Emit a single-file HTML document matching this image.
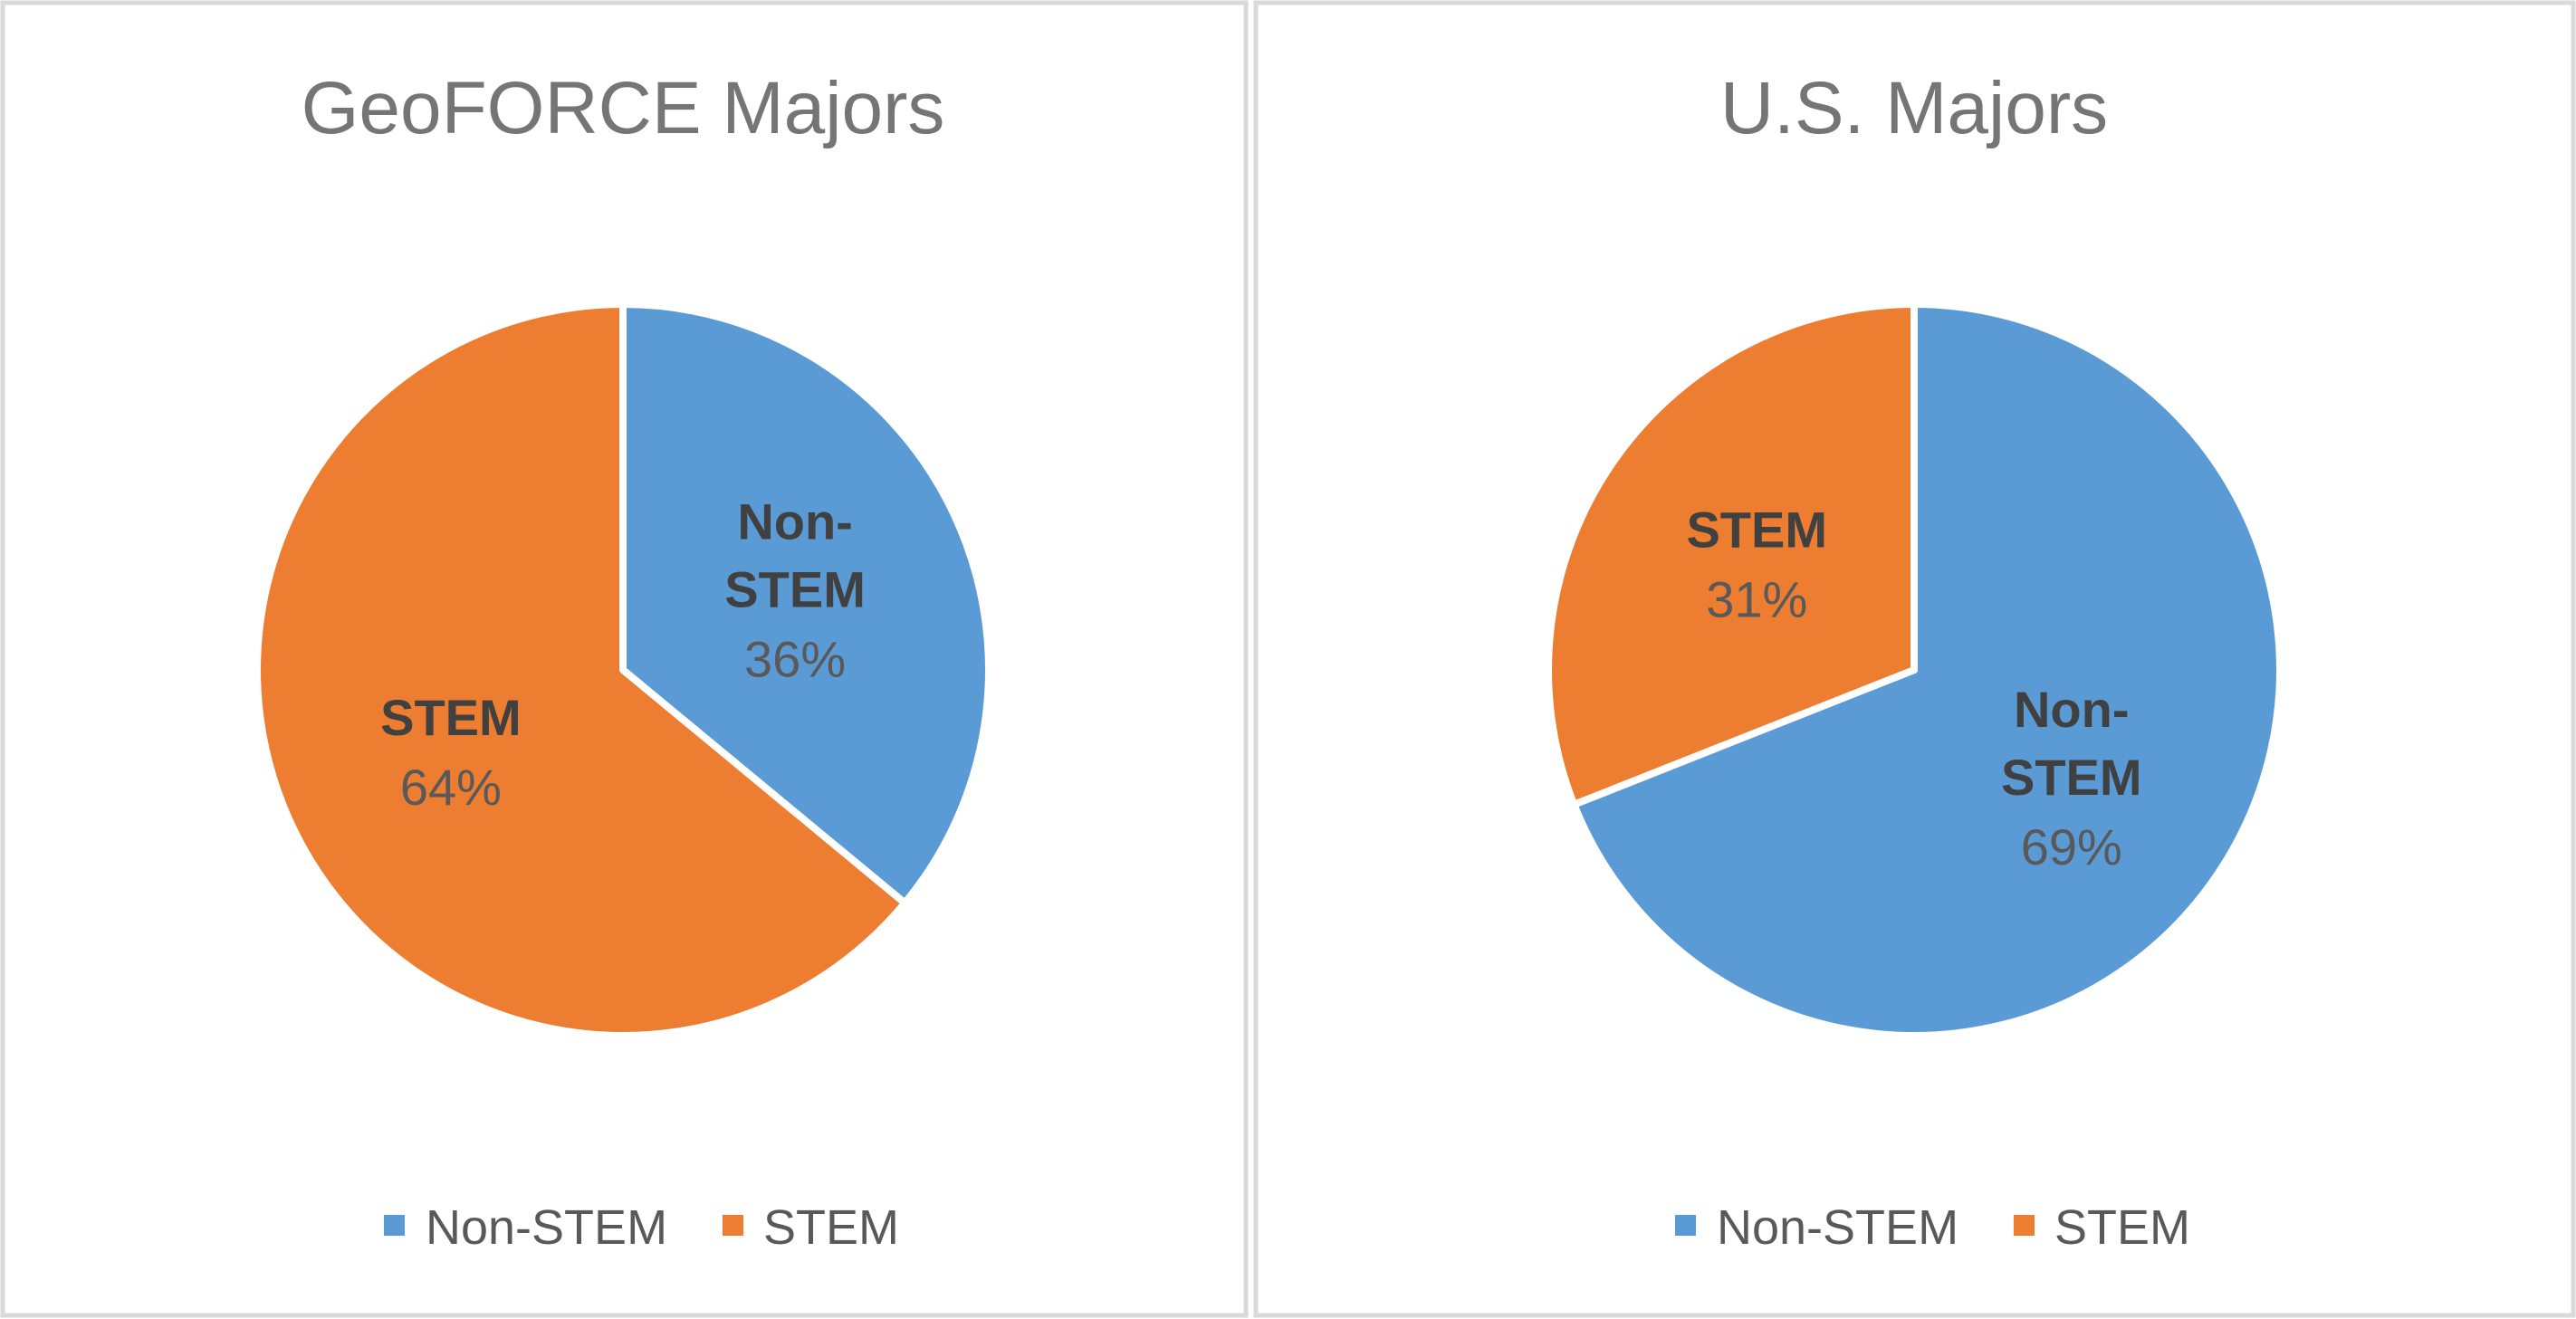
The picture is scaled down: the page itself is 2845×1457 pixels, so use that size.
<!DOCTYPE html>
<html><head><meta charset="utf-8"><style>
html,body{margin:0;padding:0;background:#fff;}
svg{display:block;font-family:"Liberation Sans",sans-serif;}
</style></head><body>
<svg id="chart" width="2845" height="1457" viewBox="0 0 2845 1457">
<rect x="3" y="3" width="1373" height="1450" fill="#fff" stroke="#d9d9d9" stroke-width="5"/>
<rect x="1387" y="3" width="1455" height="1450" fill="#fff" stroke="#d9d9d9" stroke-width="5"/>
<text x="688" y="147" text-anchor="middle" font-size="82" fill="#757575">GeoFORCE Majors</text>
<text x="2114" y="147" text-anchor="middle" font-size="82" fill="#757575">U.S. Majors</text>
<g id="pies"></g>
<g>
<rect x="424" y="1342" width="23" height="23" fill="#5b9bd5"/>
<text x="470" y="1374" font-size="54" fill="#595959">Non-STEM</text>
<rect x="798" y="1342" width="23" height="23" fill="#ed7d31"/>
<text x="843" y="1374" font-size="54" fill="#595959">STEM</text>
</g>
<g>
<rect x="1850" y="1342" width="23" height="23" fill="#5b9bd5"/>
<text x="1896" y="1374" font-size="54" fill="#595959">Non-STEM</text>
<rect x="2224" y="1342" width="23" height="23" fill="#ed7d31"/>
<text x="2269" y="1374" font-size="54" fill="#595959">STEM</text>
</g>
</svg>
<script>
const categories = ["Non-STEM", "STEM"];
const geoforceValues = [36, 64];
const usValues = [69, 31];
const colors = ["#5b9bd5", "#ed7d31"];
const NS = "http://www.w3.org/2000/svg";
const g = document.getElementById("pies");
function pt(cx, cy, r, frac) {
  const a = frac * 2 * Math.PI;
  return [cx + r * Math.sin(a), cy - r * Math.cos(a)];
}
function drawPie(cx, cy, r, values, name) {
  const total = values.reduce((a, b) => a + b, 0);
  let acc = 0;
  values.forEach((v, i) => {
    const f0 = acc / total, f1 = (acc + v) / total;
    acc += v;
    const p0 = pt(cx, cy, r, f0), p1 = pt(cx, cy, r, f1);
    const large = (f1 - f0) > 0.5 ? 1 : 0;
    const path = document.createElementNS(NS, "path");
    path.setAttribute("d", `M${cx},${cy} L${p0[0]},${p0[1]} A${r},${r} 0 ${large} 1 ${p1[0]},${p1[1]} Z`);
    path.setAttribute("fill", colors[i]);
    path.setAttribute("stroke", "#fff");
    path.setAttribute("stroke-width", "8");
    path.setAttribute("stroke-linejoin", "round");
    
    
    g.appendChild(path);
    // label
    const mid = (f0 + f1) / 2;
    const lp = pt(cx, cy, r * 0.52, mid);
    const lines = categories[i] === "Non-STEM" ? ["Non-", "STEM"] : ["STEM"];
    const lh = 75;
    const n = lines.length + 1;
    let y0 = lp[1] - (n - 1) * lh / 2 + 20;
    const t = document.createElementNS(NS, "text");
    t.setAttribute("text-anchor", "middle");
    
    
    lines.forEach((ln, k) => {
      const s = document.createElementNS(NS, "tspan");
      s.setAttribute("x", lp[0]);
      s.setAttribute("y", y0 + k * lh);
      s.setAttribute("font-size", "56");
      s.setAttribute("font-weight", "bold");
      s.setAttribute("fill", "#404040");
      s.textContent = ln;
      t.appendChild(s);
    });
    const s2 = document.createElementNS(NS, "tspan");
    s2.setAttribute("x", lp[0]);
    s2.setAttribute("y", y0 + lines.length * lh + 2);
    s2.setAttribute("font-size", "56");
    s2.setAttribute("fill", "#595959");
    s2.textContent = Math.round(v / total * 100) + "%";
    t.appendChild(s2);
    g.appendChild(t);
  });
}
drawPie(688, 740, 404, geoforceValues, "geoforce");
drawPie(2114, 740, 404, usValues, "us");
</script>
</body></html>
